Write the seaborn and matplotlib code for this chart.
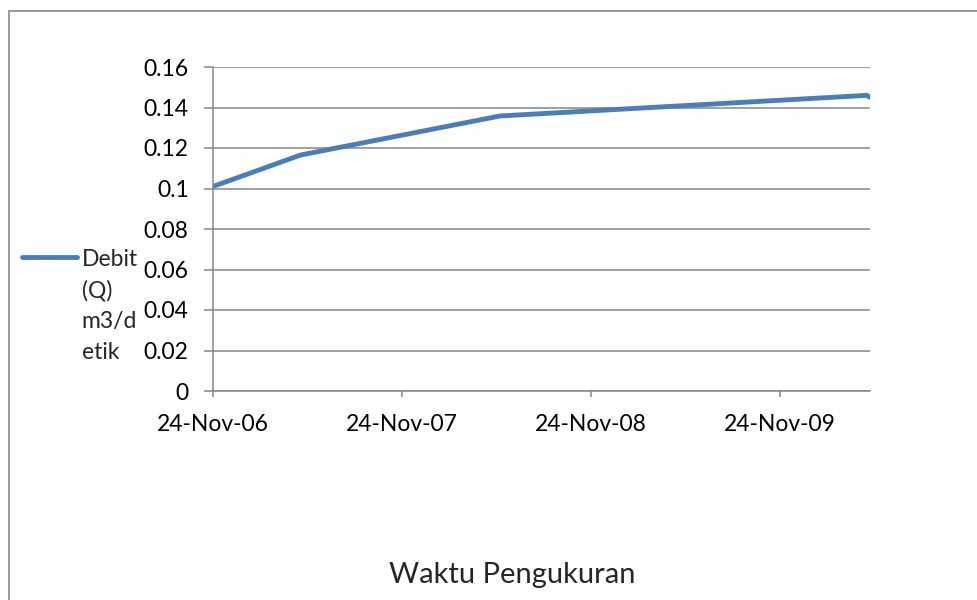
import matplotlib
matplotlib.use('Agg')
import matplotlib.pyplot as plt
import matplotlib.dates as mdates
from matplotlib.patches import Rectangle
import numpy as np
import pandas as pd
import seaborn as sns

# data
dates = ['2006-11-24', '2007-05-12', '2008-06-01', '2010-05-12', '2010-05-18']
debit = [0.101, 0.1165, 0.1358, 0.146, 0.145]
series_label = 'Debit\n(Q)\nm3/d\netik'
x_title = 'Waktu Pengukuran'
y_ticks = [0, 0.02, 0.04, 0.06, 0.08, 0.1, 0.12, 0.14, 0.16]
y_tick_labels = ['0', '0.02', '0.04', '0.06', '0.08', '0.1', '0.12', '0.14', '0.16']

grey = '#868686'
blue = '#4a7ebb'

sns.set_style('white')
plt.rcParams['font.family'] = ['Lato', 'DejaVu Sans']

df = pd.DataFrame({'date': pd.to_datetime(dates), 'debit': debit})

fig = plt.figure(figsize=(9.78, 6), dpi=100)
ax = fig.add_axes([213 / 978, 1 - 391 / 600, 657 / 978, 324 / 600])

sns.lineplot(data=df, x='date', y='debit', ax=ax, color=blue, lw=3.5,
             label=series_label, solid_capstyle='round', solid_joinstyle='round')

ax.set_xlim(df['date'].min(), df['date'].max())
ax.set_ylim(0, 0.16)
ax.set_yticks(y_ticks)
ax.set_yticklabels(y_tick_labels)
ax.yaxis.grid(True, color=grey, lw=1.1)
ax.xaxis.grid(False)

ax.xaxis.set_major_locator(mdates.YearLocator(base=1, month=11, day=24))
ax.xaxis.set_major_formatter(mdates.DateFormatter('%d-%b-%y'))

for s in ['top', 'right']:
    ax.spines[s].set_visible(False)
for s in ['left', 'bottom']:
    ax.spines[s].set_color(grey)
    ax.spines[s].set_linewidth(1.1)

ax.tick_params(axis='y', direction='out', length=6.5, width=1.1, color=grey,
               pad=11, labelsize=16.5, labelcolor='black', left=True)
ax.tick_params(axis='x', direction='out', length=4.5, width=1.1, color=grey,
               pad=12, labelsize=16.5, labelcolor='black', bottom=True)

ax.set_ylabel('')
ax.set_xlabel(x_title, fontsize=21, va='center')
ax.xaxis.set_label_coords((512 - 213) / 657, (391 - 575) / 324)

leg = ax.legend(loc='center left', bbox_to_anchor=(22 / 978, 0.49),
                bbox_transform=fig.transFigure, frameon=False, fontsize=16.5,
                handlelength=2.4, handletextpad=0.2, borderpad=0,
                borderaxespad=0)
for t in leg.get_texts():
    t.set_linespacing(1.58)
# put the legend key next to the first line of the label
for ln in leg.get_lines():
    yd = np.asarray(ln.get_ydata(), dtype=float)
    ln.set_ydata(yd + 35.5)
    ln.set_linewidth(3.5)

fig.patches.append(Rectangle((9 / 978, -0.1), 1.2, (1 - 11 / 600) + 0.1,
                             transform=fig.transFigure, fill=False,
                             edgecolor=grey, lw=1.2))

fig.savefig('out.png', dpi=100)
